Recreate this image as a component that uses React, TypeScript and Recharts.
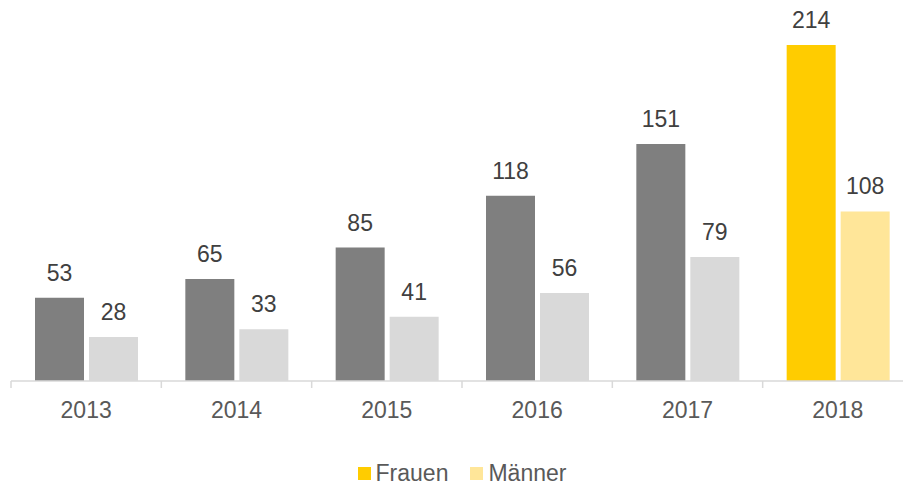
import React from 'react';
import { BarChart, Bar, XAxis, YAxis, LabelList, Cell, Legend } from 'recharts';

const years = ['2013', '2014', '2015', '2016', '2017', '2018'];
const frauen = [53, 65, 85, 118, 151, 214];
const maenner = [28, 33, 41, 56, 79, 108];

const data = years.map((y, i) => ({ year: y, Frauen: frauen[i], Männer: maenner[i] }));

const CHART_W = 924;
const MARGIN_L = 11;
const MARGIN_R = 11;
const BAND = (CHART_W - MARGIN_L - MARGIN_R) / years.length;

const GREY = '#7f7f7f';
const LIGHT_GREY = '#d9d9d9';
const GOLD = '#ffcc00';
const LIGHT_GOLD = '#ffe699';
const FONT = '"Liberation Sans", Arial, sans-serif';

const Tick = (props: any) => {
  const { x, y, payload } = props;
  const left = x - BAND / 2;
  return (
    <g>
      <line x1={left} y1={y - 8} x2={left} y2={y - 1} stroke={LIGHT_GREY} strokeWidth={1.5} />
      <text x={x} y={y + 29} textAnchor="middle" fill="#595959" fontSize={23} fontFamily={FONT}>
        {payload.value}
      </text>
    </g>
  );
};

const renderLegend = () => (
  <div style={{ display: 'flex', justifyContent: 'center', fontFamily: FONT, fontSize: 23, color: '#595959', lineHeight: '24px' }}>
    {[['Frauen', GOLD], ['Männer', LIGHT_GOLD]].map(([name, c], i) => (
      <span key={name} style={{ display: 'inline-flex', alignItems: 'center', marginRight: i === 0 ? 22 : 0 }}>
        <span style={{ display: 'inline-block', width: 13, height: 13, background: c, marginRight: 5 }} />
        {name}
      </span>
    ))}
  </div>
);

export default function App() {
  return (
    <div style={{ position: 'absolute', left: 0, top: 0, width: 903, height: 486, overflow: 'hidden', background: '#fff' }}>
      <BarChart
        width={CHART_W}
        height={500}
        data={data}
        margin={{ top: 45, right: MARGIN_R, left: MARGIN_L, bottom: 0 }}
        barCategoryGap="16%"
        barGap={5}
      >
        <XAxis
          dataKey="year"
          axisLine={{ stroke: LIGHT_GREY, strokeWidth: 1.5 }}
          tickLine={false}
          tick={<Tick />}
          height={85}
          interval={0}
        />
        <YAxis hide domain={[0, 'dataMax']} />
        <Legend
          verticalAlign="bottom"
          content={renderLegend}
          wrapperStyle={{ position: 'absolute', left: 0, width: CHART_W, top: 461, height: 34 }}
        />
        <Bar dataKey="Frauen" fill={GREY} isAnimationActive={false} barSize={49}>
          {data.map((d, i) => (
            <Cell key={d.year} fill={i === years.length - 1 ? GOLD : GREY} />
          ))}
          <LabelList dataKey="Frauen" position="top" offset={17} fill="#404040" fontSize={23} fontFamily={FONT} />
        </Bar>
        <Bar dataKey="Männer" fill={LIGHT_GREY} isAnimationActive={false} barSize={49}>
          {data.map((d, i) => (
            <Cell key={d.year} fill={i === years.length - 1 ? LIGHT_GOLD : LIGHT_GREY} />
          ))}
          <LabelList dataKey="Männer" position="top" offset={17} fill="#404040" fontSize={23} fontFamily={FONT} />
        </Bar>
      </BarChart>
    </div>
  );
}
